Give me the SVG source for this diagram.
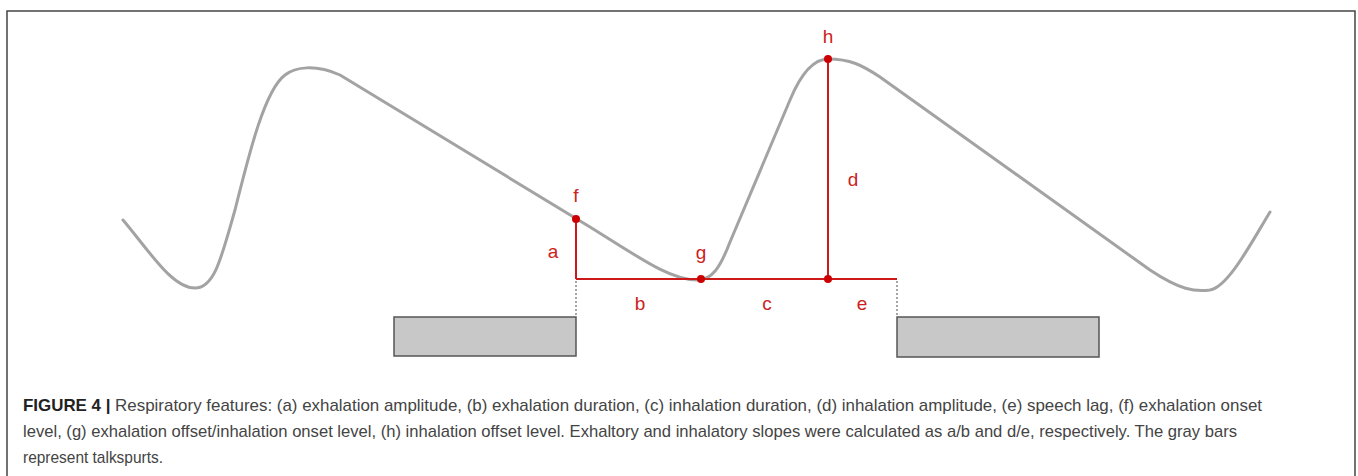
<svg xmlns="http://www.w3.org/2000/svg" width="1358" height="476" viewBox="0 0 1358 476">
<style>
.curve{fill:none;stroke:#a3a3a3;stroke-width:3;stroke-linecap:round;stroke-linejoin:round}
.red{stroke:#cc1a1a;stroke-width:2;fill:none}
.dot{fill:#cc0000}
.lbl{font-family:"Liberation Sans",Arial,sans-serif;font-size:19px;fill:#cc2222;text-anchor:middle}
.bar{fill:#c8c8c8;stroke:#555;stroke-width:1.5}
.dotted{stroke:#888;stroke-width:1.5;stroke-dasharray:2,2;fill:none}
.cap{font-family:"Liberation Sans",Arial,sans-serif;font-size:17px;fill:#444}
</style>
<rect x="0" y="0" width="1358" height="476" fill="#fff"/>
<g id="frame">
<path d="M7,480 V11 H1355 V480" fill="none" stroke="#444" stroke-width="1.5"/>
</g>
<g id="signal">
<path class="curve" d="M123,220 C150,252 172,288 195,288 C215,288 222,255 235,210 C250,150 265,90 285,75 C295,67 315,64 340,75 L590,227 C640,258 670,280 697,280 C712,280 720,268 730,242 L790,100 C800,76 812,59 828,59 C850,59 862,65 880,77 L1150,270 C1180,290 1195,292 1210,290 C1228,287 1250,245 1270,212"/>
</g>
<g id="talkspurt-left">
<rect class="bar" x="394" y="317" width="182" height="39"/>
</g>
<g id="talkspurt-right">
<rect class="bar" x="897" y="317" width="202" height="40"/>
</g>
<g id="connectors">
<line class="dotted" x1="576" y1="281" x2="576" y2="316"/>
<line class="dotted" x1="897" y1="281" x2="897" y2="316"/>
<line class="red" x1="576" y1="219" x2="576" y2="279"/>
<line class="red" x1="576" y1="279" x2="897" y2="279"/>
<line class="red" x1="828" y1="59" x2="828" y2="279"/>
</g>
<g id="point-f"><circle class="dot" cx="576" cy="219" r="4"/><text class="lbl" x="576" y="202">f</text></g>
<g id="point-g"><circle class="dot" cx="701" cy="279" r="4"/><text class="lbl" x="701" y="259">g</text></g>
<g id="point-h"><circle class="dot" cx="828" cy="59" r="4"/><text class="lbl" x="828" y="43">h</text></g>
<g id="point-base"><circle class="dot" cx="828" cy="279" r="4"/></g>
<g id="label-a"><text class="lbl" x="553" y="258">a</text></g>
<g id="label-b"><text class="lbl" x="640" y="310">b</text></g>
<g id="label-c"><text class="lbl" x="767" y="310">c</text></g>
<g id="label-d"><text class="lbl" x="853" y="186">d</text></g>
<g id="label-e"><text class="lbl" x="862" y="310">e</text></g>
<g id="caption">
<text class="cap" x="23" y="411" textLength="1239" lengthAdjust="spacingAndGlyphs"><tspan font-weight="bold" fill="#222">FIGURE 4 |</tspan> Respiratory features: (a) exhalation amplitude, (b) exhalation duration, (c) inhalation duration, (d) inhalation amplitude, (e) speech lag, (f) exhalation onset</text>
<text class="cap" x="23" y="437" textLength="1214" lengthAdjust="spacingAndGlyphs">level, (g) exhalation offset/inhalation onset level, (h) inhalation offset level. Exhaltory and inhalatory slopes were calculated as a/b and d/e, respectively. The gray bars</text>
<text class="cap" x="23" y="463" textLength="140" lengthAdjust="spacingAndGlyphs">represent talkspurts.</text>
</g>
</svg>
